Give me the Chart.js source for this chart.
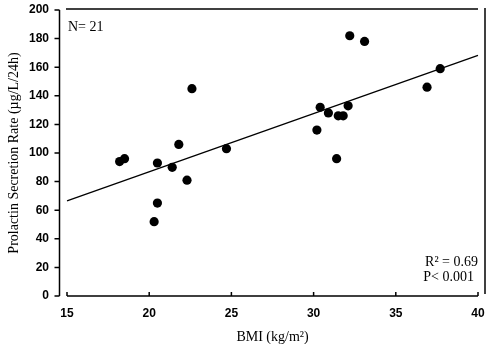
<!DOCTYPE html>
<html>
<head>
<meta charset="utf-8">
<script src="https://cdn.jsdelivr.net/npm/chart.js@4/dist/chart.umd.min.js"></script>
<style>
	html, body { margin: 0; padding: 0; background: #fff; }
</style>
</head>
<body>
<canvas id="chart" width="500" height="344"></canvas>
<script>
// BMI (kg/m2) of each subject
var bmi = [18.2, 18.5, 20.5, 21.4, 21.8, 22.6, 24.7, 22.3, 20.5, 20.3, 32.2, 33.1, 37.7, 36.9, 30.4, 30.9, 31.5, 31.8, 32.1, 30.2, 31.4];
// prolactin secretion rate (ug/L/24h) for the same subjects
var prlRate = [94, 96, 93, 90, 106, 145, 103, 81, 65, 52, 182, 178, 159, 146, 132, 128, 126, 126, 133, 116, 96];
// regression line end points
var fitX = [15, 40];
var fitY = [66.5, 168.3];
// tick labels
var xTicks = [15, 20, 25, 30, 35, 40];
var yTicks = [0, 20, 40, 60, 80, 100, 120, 140, 160, 180, 200];

Chart.defaults.color = "#000";
Chart.defaults.animation = false;

var serif = "'Liberation Serif', 'Times New Roman', serif";
var sans = "'Liberation Sans', Arial, sans-serif";

// draws the offset axes, the frame lines and the stats text
var axesPlugin = {
	id: "axesPlugin",
	afterDraw: function(chart) {
		var ctx = chart.ctx;
		var xs = chart.scales.x, ys = chart.scales.y;
		var x0 = xs.getPixelForValue(15), x1 = xs.getPixelForValue(40);
		var yTop = ys.getPixelForValue(200), yBot = ys.getPixelForValue(0);
		var yAxisX = x0 - 7.5;

		ctx.save();
		ctx.strokeStyle = "#000";
		ctx.lineWidth = 1.5;

		// y axis with ticks pointing left
		ctx.beginPath();
		ctx.moveTo(yAxisX, yTop);
		ctx.lineTo(yAxisX, yBot);
		yTicks.forEach(function(v) {
			var p = ys.getPixelForValue(v);
			ctx.moveTo(yAxisX - 5, p);
			ctx.lineTo(yAxisX, p);
		});
		ctx.stroke();

		// x axis with ticks pointing up
		ctx.beginPath();
		ctx.moveTo(x0, yBot);
		ctx.lineTo(x1, yBot);
		xTicks.forEach(function(v) {
			var p = xs.getPixelForValue(v);
			ctx.moveTo(p, yBot);
			ctx.lineTo(p, yBot - 4);
		});
		ctx.stroke();

		// top frame line
		ctx.beginPath();
		ctx.moveTo(x0 - 1, yTop - 1);
		ctx.lineTo(x1, yTop - 1);
		ctx.stroke();

		// right frame line
		ctx.beginPath();
		ctx.moveTo(x1 + 7, yTop - 2);
		ctx.lineTo(x1 + 7, yBot - 2);
		ctx.stroke();

		// annotations
		ctx.fillStyle = "#000";
		ctx.font = "14px " + serif;
		ctx.textAlign = "left";
		ctx.textBaseline = "alphabetic";
		ctx.fillText("N= 21", x0 + 1, 31);
		ctx.textAlign = "right";
		ctx.fillText("R\u00b2 = 0.69", x1, 266);
		ctx.fillText("P< 0.001", x1 - 4, 281);
		ctx.restore();
	}
};

var ctx = document.getElementById("chart").getContext("2d");
var points = bmi.map(function(v, i) { return { x: v, y: prlRate[i] }; });
var fitLine = fitX.map(function(v, i) { return { x: v, y: fitY[i] }; });

var myChart = new Chart(ctx, {
	type: "scatter",
	data: {
		datasets: [{
			data: points,
			backgroundColor: "#000",
			borderWidth: 0,
			pointRadius: 4.6
		}, {
			data: fitLine,
			showLine: true,
			borderColor: "#000",
			borderWidth: 1.3,
			pointRadius: 0,
			clip: false
		}]
	},
	options: {
		responsive: false,
		layout: { padding: { top: 10, right: 22, left: 0, bottom: 0 } },
		plugins: {
			legend: { display: false },
			tooltip: { enabled: false }
		},
		scales: {
			x: {
				type: "linear",
				min: 15,
				max: 40,
				border: { display: false },
				grid: { display: false, drawTicks: false },
				afterFit: function(s) {
					s.height = 48;
					s.paddingLeft = 0;
					s.paddingRight = 0;
				},
				afterBuildTicks: function(s) { s.ticks = xTicks.map(function(v) { return { value: v }; }); },
				ticks: {
					padding: 10,
					maxRotation: 0,
					font: { family: sans, size: 12, weight: "bold" }
				},
				title: {
					display: true,
					text: "BMI (kg/m\u00b2)",
					padding: 0,
					font: { family: serif, size: 14, lineHeight: 1 }
				}
			},
			y: {
				min: 0,
				max: 200,
				border: { display: false },
				grid: { display: false, drawTicks: false },
				afterFit: function(s) {
					s.width = 67;
					s.paddingTop = 0;
					s.paddingBottom = 0;
				},
				afterBuildTicks: function(s) { s.ticks = yTicks.map(function(v) { return { value: v }; }); },
				ticks: {
					padding: 18,
					font: { family: sans, size: 12, weight: "bold" }
				},
				title: {
					display: true,
					text: "Prolactin Secretion Rate (\u00b5g/L/24h)",
					padding: { top: 7, bottom: 0 },
					font: { family: serif, size: 14, lineHeight: 1 }
				}
			}
		}
	},
	plugins: [axesPlugin]
});
</script>
</body>
</html>
